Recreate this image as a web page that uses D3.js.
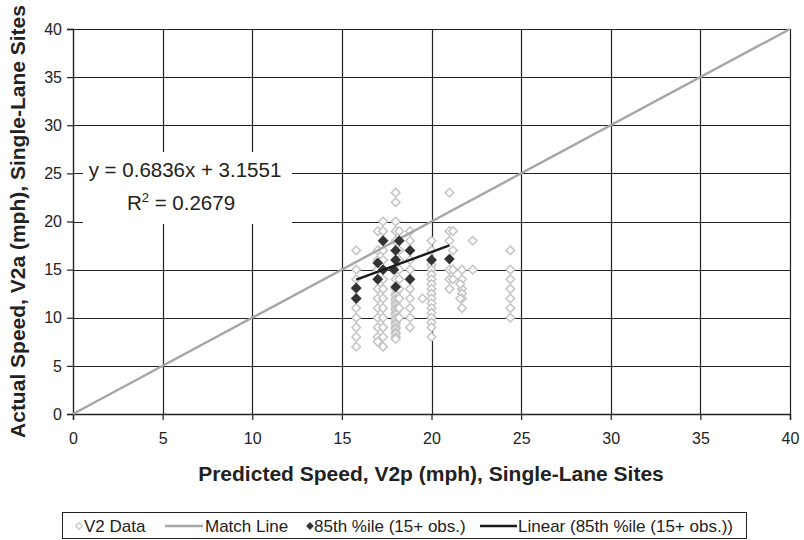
<!DOCTYPE html>
<html><head><meta charset="utf-8">
<script src="https://cdn.jsdelivr.net/npm/d3@7"></script>
<style>body{margin:0;background:#fff}svg{display:block;font-family:"Liberation Sans",Arial,sans-serif}</style>
</head><body><svg id="c" width="804" height="540"></svg>
<script>
// ---- data ----
const xTicks = [0,5,10,15,20,25,30,35,40];
const yTicks = [0,5,10,15,20,25,30,35,40];
// V2 Data (predicted, actual)
const v2Data = [
 [15.8,17],[15.8,15],[15.8,14],[15.8,13],[15.8,12],[15.8,11],[15.8,10],[15.8,9],[15.8,8],[15.8,7],
 [17.0,19],[17.0,17],[17.0,16],[17.0,15],[17.0,14],[17.0,13],[17.0,12],[17.0,11],[17.0,10],[17.0,9],[17.0,8],[17.0,7.5],
 [17.3,20],[17.3,19],[17.3,18],[17.3,17],[17.3,16],[17.3,15],[17.3,14],[17.3,13],[17.3,12],[17.3,11],[17.3,10],[17.3,9],[17.3,8],[17.3,7],
 [18.0,23],[18.0,22],[18.0,20],[18.0,19],[18.0,18],[18.0,17],[18.0,16],[18.0,15],[18.0,14],[18.0,13],[18.0,12.5],[18.0,12.3],[18.0,12],[18.0,11.8],[18.0,11.5],[18.0,11.3],[18.0,11],[18.0,10.8],[18.0,10.5],[18.0,10.3],[18.0,10],[18.0,9.8],[18.0,9.5],[18.0,9.3],[18.0,9],[18.0,8.8],[18.0,8.5],[18.0,8.3],[18.0,8],[18.0,7.8],
 [18.2,19],[18.2,17],[18.2,16],[18.2,15],[18.2,14],[18.2,13],[18.2,12],[18.2,11],[18.2,10],
 [18.8,19],[18.8,18],[18.8,17],[18.8,16],[18.8,15],[18.8,14],[18.8,13],[18.8,12],[18.8,11],[18.8,10],[18.8,9],
 [19.5,12],
 [20.0,18],[20.0,17],[20.0,16],[20.0,15.5],[20.0,15],[20.0,14.5],[20.0,14],[20.0,13.5],[20.0,13],[20.0,12.5],[20.0,12],[20.0,11.5],[20.0,11],[20.0,10.5],[20.0,10],[20.0,9.5],[20.0,9],[20.0,8],
 [21.0,23],[21.0,19],[21.0,18],[21.0,15],[21.0,14],[21.0,13],
 [21.2,19],[21.2,17],[21.2,15],[21.2,14],
 [21.7,15],[21.7,14],[21.7,13],[21.7,12.5],[21.7,12],[21.7,11],[21.6,13.5],[21.6,12],
 [22.3,18],[22.3,15],
 [24.4,17],[24.4,15],[24.4,14],[24.4,13],[24.4,12],[24.4,11],[24.4,10]
];
// 85th percentile (15+ obs.)
const p85Data = [
 [15.8,13.1],[15.8,12.0],[17.0,15.7],[17.0,14.0],[17.3,18.0],[17.3,15.0],[18.0,17.0],[18.2,18.0],
 [18.8,17.0],[18.0,16.0],[17.9,15.0],[18.8,14.0],[18.0,13.2],[20.0,16.0],[21.0,16.1]
];
const matchLine = [[0,0],[40,40]];
const trendSlope = 0.6836, trendIntercept = 3.1551, trendR2 = 0.2679;
const legendLabels = ["V2 Data","Match Line","85th %ile (15+ obs.)","Linear (85th %ile (15+ obs.))"];
const xTitle = "Predicted Speed, V2p (mph), Single-Lane Sites";
const yTitle = "Actual Speed, V2a (mph), Single-Lane Sites";

// ---- layout ----
const L=73, R=790, T=29, B=414;
const svg = d3.select("#c");
const x = d3.scaleLinear().domain([0,40]).range([L,R]);
const y = d3.scaleLinear().domain([0,40]).range([B,T]);
const gridC = "#222";

// grid
const gridG = svg.append("g").attr("class","grid");
gridG.selectAll("line.gx").data(xTicks.slice(1)).enter().append("line").attr("class","gx")
 .attr("x1",d=>Math.round(x(d))+0.5).attr("x2",d=>Math.round(x(d))+0.5).attr("y1",T).attr("y2",B)
 .style("stroke",gridC).style("stroke-width","1.2px");
gridG.selectAll("line.gy").data(yTicks.slice(1)).enter().append("line").attr("class","gy")
 .attr("y1",d=>Math.round(y(d))+0.5).attr("y2",d=>Math.round(y(d))+0.5).attr("x1",L).attr("x2",R)
 .style("stroke",gridC).style("stroke-width","1.2px");

// axes
const xAxis = d3.axisBottom(x).tickValues(xTicks).tickSize(6).tickPadding(13).tickFormat(d3.format("d"));
const yAxis = d3.axisLeft(y).tickValues(yTicks).tickSize(6).tickPadding(5).tickFormat(d3.format("d"));
const ax = svg.append("g").attr("transform",`translate(0,${B})`).call(xAxis);
const ay = svg.append("g").attr("transform",`translate(${L},0)`).call(yAxis);
[ax,ay].forEach(a=>{
  a.select(".domain").style("stroke",gridC).style("stroke-width","1.4px");
  a.selectAll(".tick line").style("stroke",gridC).style("stroke-width","1.2px");
  a.selectAll("text").attr("font-family","Liberation Sans, Arial, sans-serif").attr("font-size",16).attr("fill","#222");
});

// diamond path
const dia = r => `M0,${-r}L${r},0L0,${r}L${-r},0Z`;

// V2 data
svg.append("g").selectAll("path").data(v2Data).enter().append("path")
 .attr("transform",d=>`translate(${x(d[0])},${y(d[1])})`)
 .attr("d",dia(4.3)).attr("fill","#fff").attr("stroke","#c4c4c4").attr("stroke-width",1.5);

// match line
svg.append("path").datum(matchLine)
 .attr("d",d3.line().x(d=>x(d[0])).y(d=>y(d[1])))
 .attr("stroke","#a6a6a6").attr("stroke-width",2.4).attr("fill","none");

// 85th
svg.append("g").selectAll("path").data(p85Data).enter().append("path")
 .attr("transform",d=>`translate(${x(d[0])},${y(d[1])})`)
 .attr("d",dia(5.4)).attr("fill","#333");

// trend
const xmin = d3.min(p85Data,d=>d[0]), xmax = d3.max(p85Data,d=>d[0]);
const trend = [xmin,xmax].map(v=>[v, trendSlope*v+trendIntercept]);
svg.append("path").datum(trend)
 .attr("d",d3.line().x(d=>x(d[0])).y(d=>y(d[1])))
 .attr("stroke","#1a1a1a").attr("stroke-width",2.4).attr("fill","none");

// equation label
svg.append("rect").attr("x",83).attr("y",152).attr("width",209).attr("height",72).attr("fill","#fff");
const eq = svg.append("g").attr("font-size",20.5).attr("fill","#222").attr("text-anchor","middle");
eq.append("text").attr("x",185).attr("y",177).text(`y = ${trendSlope}x + ${trendIntercept}`);
const r2 = eq.append("text").attr("x",181).attr("y",210);
r2.append("tspan").text("R");
r2.append("tspan").attr("font-size",13).attr("dy",-8).text("2");
r2.append("tspan").attr("dy",8).text(` = ${trendR2}`);

// titles
svg.append("text").attr("x",431).attr("y",481).attr("text-anchor","middle")
 .attr("font-weight","bold").attr("font-size",21).attr("fill","#222").text(xTitle);
svg.append("text").attr("transform",`translate(25,${(T+B)/2}) rotate(-90)`).attr("text-anchor","middle")
 .attr("font-weight","bold").attr("font-size",21).attr("fill","#222").text(yTitle);

// legend
const lg = svg.append("g");
lg.append("rect").attr("x",62.5).attr("y",512.5).attr("width",684).attr("height",26).attr("fill","#fff").style("stroke","#222");
const ly = 526, lf = 17;
lg.append("path").attr("transform",`translate(79,${ly})`).attr("d",dia(3.3)).attr("fill","#fff").attr("stroke","#c4c4c4").attr("stroke-width",1.2);
lg.append("text").attr("x",84).attr("y",ly+6).attr("font-size",lf).attr("fill","#222").text(legendLabels[0]);
lg.append("line").attr("x1",165).attr("x2",203).attr("y1",ly).attr("y2",ly).style("stroke","#a6a6a6").style("stroke-width","2.4px");
lg.append("text").attr("x",205).attr("y",ly+6).attr("font-size",lf).attr("fill","#222").text(legendLabels[1]);
lg.append("path").attr("transform",`translate(310,${ly})`).attr("d",dia(3.9)).attr("fill","#333");
lg.append("text").attr("x",314).attr("y",ly+6).attr("font-size",lf).attr("fill","#222").text(legendLabels[2]);
lg.append("line").attr("x1",480).attr("x2",517).attr("y1",ly).attr("y2",ly).style("stroke","#1a1a1a").style("stroke-width","2.4px");
lg.append("text").attr("x",518).attr("y",ly+6).attr("font-size",lf).attr("fill","#222").text(legendLabels[3]);
</script></body></html>
